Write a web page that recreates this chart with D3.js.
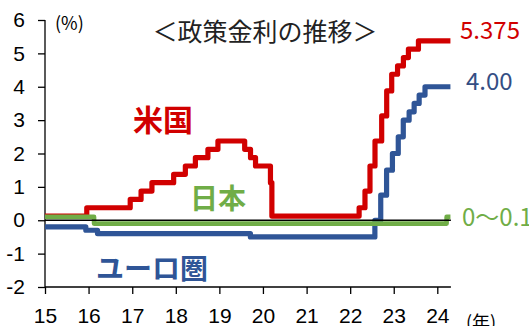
<!DOCTYPE html>
<html><head><meta charset="utf-8">
<script src="https://cdn.jsdelivr.net/npm/d3@7"></script>
<style>html,body{margin:0;padding:0;background:#fff;}svg{display:block;}</style>
</head><body>
<svg id="c" width="529" height="326"></svg>
<script>
// ---- data ----
const usDates = ["2015-01-01","2015-12-17","2016-12-15","2017-03-16","2017-06-15","2017-12-14","2018-03-22","2018-06-14","2018-09-27","2018-12-20","2019-08-01","2019-09-19","2019-10-31","2020-03-04","2020-03-16","2022-03-17","2022-05-05","2022-06-16","2022-07-28","2022-09-22","2022-11-03","2022-12-15","2023-02-02","2023-03-23","2023-05-04","2023-07-27","2024-04-20"];
const usRates = [0.125,0.375,0.625,0.875,1.125,1.375,1.625,1.875,2.125,2.375,2.125,1.875,1.625,1.125,0.125,0.375,0.875,1.625,2.375,3.125,3.875,4.375,4.625,4.875,5.125,5.375,5.375];
const euDates = ["2015-01-01","2015-12-09","2016-03-16","2019-09-18","2022-07-27","2022-09-14","2022-11-02","2022-12-21","2023-02-08","2023-03-22","2023-05-10","2023-06-21","2023-08-02","2023-09-20","2024-04-20"];
const euRates = [-0.2,-0.3,-0.4,-0.5,0.0,0.75,1.5,2.0,2.5,3.0,3.25,3.5,3.75,4.0,4.0];
const jpDates = ["2015-01-01","2016-02-16","2024-03-19","2024-04-20"];
const jpRates = [0.1,-0.1,0.1,0.1];
const yearTicks = ["2015","2016","2017","2018","2019","2020","2021","2022","2023","2024"];
const yearLabels = ["15","16","17","18","19","20","21","22","23","24"];
const yTicks = [-2,-1,0,1,2,3,4,5,6];
const endLabels = ["5.375","4.00","0～0.1"];
const seriesNames = ["米国","ユーロ圏","日本"];

const RED="#d10000", BLUE="#2f5597", GREEN="#70ad47";
const svg = d3.select("#c");
const parse = d3.timeParse("%Y-%m-%d");
const pYear = d3.timeParse("%Y");

const x = d3.scaleTime().domain([parse("2015-01-01"), parse("2024-01-01")]).range([45, 437.3]);
const y = d3.scaleLinear().domain([-2, 6]).range([287, 20]);
const axisEnd = parse("2024-04-24");

const mk = (ds, vs) => ds.map((d,i)=>({d:parse(d), v:vs[i]}));
const line = d3.line().x(p=>x(p.d)).y(p=>y(p.v)).curve(d3.curveStepAfter);

// y axis
const ya = svg.append("g").attr("transform","translate(45,0)")
  .call(d3.axisLeft(y).tickValues(yTicks).tickSize(7).tickPadding(13).tickFormat(d=>String(d)));
ya.select(".domain").attr("stroke","#000").attr("stroke-width",1.3).attr("d",`M0,${y(6)}V${y(-2)}`);
ya.selectAll(".tick line").attr("stroke","#000").attr("stroke-width",1.3);
ya.selectAll(".tick text").attr("font-family","'Liberation Sans', Arial, sans-serif").attr("font-size",21).attr("fill","#000");

// x axis at bottom
const xa = svg.append("g").attr("transform",`translate(0,${y(-2)})`)
  .call(d3.axisBottom(x).tickValues(yearTicks.map(t=>pYear(t))).tickSize(7).tickPadding(14).tickFormat((d,i)=>yearLabels[i]));
xa.select(".domain").attr("stroke","#000").attr("stroke-width",1.3).attr("d",`M${x(parse("2015-01-01"))},0H${x(axisEnd)}`);
xa.selectAll(".tick line").attr("stroke","#000").attr("stroke-width",1.3);
xa.selectAll(".tick text").attr("font-family","'Liberation Sans', Arial, sans-serif").attr("font-size",21).attr("fill","#000");

// series
svg.append("path").datum(mk(usDates,usRates)).attr("d",line).attr("fill","none").attr("stroke",RED).attr("stroke-width",5.2).attr("stroke-linejoin","round");
svg.append("path").datum(mk(euDates,euRates)).attr("d",line).attr("fill","none").attr("stroke",BLUE).attr("stroke-width",5.2).attr("stroke-linejoin","round");
svg.append("path").datum(mk(jpDates,jpRates)).attr("d",line).attr("fill","none").attr("stroke",GREEN).attr("stroke-width",4.6).attr("stroke-linejoin","round");

// zero line on top
svg.append("line").attr("x1",x(parse("2015-01-01"))).attr("x2",x(axisEnd)).attr("y1",y(0)).attr("y2",y(0)).attr("stroke","#000").attr("stroke-width",1.5);

const JP = "'Noto Sans CJK JP','Noto Sans',sans-serif";
// title & units
svg.append("text").attr("x",265).attr("y",41).attr("text-anchor","middle").attr("font-family",JP).attr("font-size",25).attr("fill","#222").text("＜政策金利の推移＞");
svg.append("text").attr("x",55).attr("y",30).attr("font-family",JP).attr("font-size",18).attr("fill","#000").text("(%)");
svg.append("text").attr("x",466).attr("y",329).attr("font-family",JP).attr("font-size",18).attr("fill","#000").text("(年)");

// series labels
svg.append("text").attr("x",133).attr("y",131).attr("font-family",JP).attr("font-weight","bold").attr("font-size",30).attr("fill",RED).text(seriesNames[0]);
svg.append("text").attr("x",96).attr("y",279).attr("font-family",JP).attr("font-weight","bold").attr("font-size",28).attr("fill",BLUE).text(seriesNames[1]);
svg.append("text").attr("x",190).attr("y",209).attr("font-family",JP).attr("font-weight","bold").attr("font-size",28).attr("fill",GREEN).text(seriesNames[2]);

// end labels
svg.append("text").attr("x",460).attr("y",38.5).attr("font-family",JP).attr("font-size",24).attr("fill",RED).text(endLabels[0]);
svg.append("text").attr("x",466).attr("y",89.5).attr("font-family",JP).attr("font-size",24).attr("fill","#344e84").text(endLabels[1]);
svg.append("text").attr("x",462).attr("y",225.5).attr("font-family",JP).attr("font-size",24).attr("fill",GREEN).text(endLabels[2]);
</script>
</body></html>
